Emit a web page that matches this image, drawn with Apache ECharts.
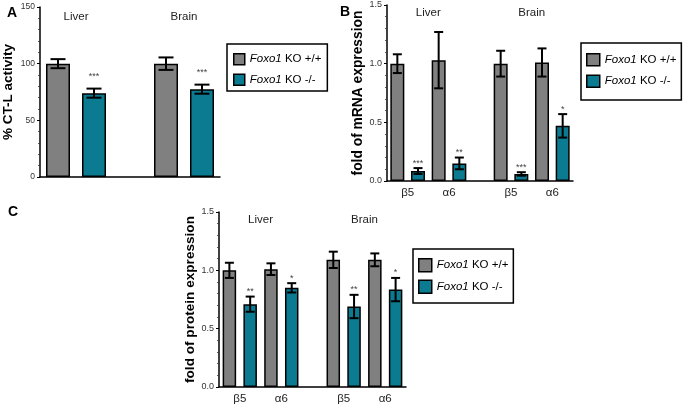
<!DOCTYPE html>
<html><head><meta charset="utf-8">
<script src="https://cdn.jsdelivr.net/npm/echarts@6/dist/echarts.min.js"></script>
<style>html,body{margin:0;padding:0;background:#fff}#c{width:684px;height:406px}</style>
</head><body><div id="c"></div>
<script>
// ---------- data ----------
const seriesNames = ['Foxo1 KO +/+', 'Foxo1 KO -/-'];
// Panel A: CT-L activity
const groupsA = ['Liver', 'Brain'];
const wtA = [100, 100];
const wtErrA = [4, 5.5];
const koA = [74, 77.5];
const koErrA = [4, 4];
const starsA = ['***', '***'];
// Panel B: mRNA expression
const genesB = ['β5', 'α6', 'β5', 'α6'];
const groupsB = ['Liver', 'Brain'];
const wtB = [1.0, 1.03, 1.0, 1.01];
const wtErrB = [0.08, 0.24, 0.11, 0.12];
const koB = [0.085, 0.15, 0.06, 0.47];
const koErrB = [0.025, 0.05, 0.015, 0.1];
const starsB = ['***', '**', '***', '*'];
// Panel C: protein expression
const genesC = ['β5', 'α6', 'β5', 'α6'];
const groupsC = ['Liver', 'Brain'];
const wtC = [1.0, 1.01, 1.09, 1.09];
const wtErrC = [0.065, 0.05, 0.07, 0.055];
const koC = [0.71, 0.85, 0.69, 0.835];
const koErrC = [0.065, 0.04, 0.1, 0.1];
const starsC = ['**', '*', '**', '*'];
// y tick setup
const yMaxA = 150, yIntA = 50;
const yMaxBC = 1.5, yIntBC = 0.5;

// ---------- layout ----------
const GRAY = '#808080', TEAL = '#0a7b90';
const FONT = 'Liberation Sans, Arial, sans-serif';
const panels = [
  {grid:{left:40, top:7, width:180, height:170}, nSlots:5, wtSlots:[0,3], koSlots:[1,4],
   wt:wtA, wtErr:wtErrA, ko:koA, koErr:koErrA, stars:starsA, genes:null, groups:groupsA, groupPos:[1,4],
   groupY:141, yMax:yMaxA, yInt:yIntA, barW:24, cap:7.5, starGap:12, starSize:9,
   yName:'% CT-L activity', nameGap:25, nameSize:13.5, tickSize:8.5, fmt:v=>String(v),
   legend:{left:227, top:44, padding:[9,6,5,6], itemW:11, itemH:11, gap:8, fs:11.5}},
  {grid:{left:387, top:5, width:186, height:176}, nSlots:9, wtSlots:[0,2,5,7], koSlots:[1,3,6,8],
   wt:wtB, wtErr:wtErrB, ko:koB, koErr:koErrB, stars:starsB, genes:genesB, groups:groupsB, groupPos:[2,7],
   groupY:1.43, yMax:yMaxBC, yInt:yIntBC, barW:14, cap:4.5, starGap:5, starSize:9,
   yName:'fold of mRNA expression', nameGap:15, nameSize:13.8, tickSize:9, fmt:v=>v.toFixed(1),
   legend:{left:581, top:43, padding:[10,5,12,5], itemW:13, itemH:12, gap:8, fs:11.5}},
  {grid:{left:219, top:212, width:187, height:175}, nSlots:9, wtSlots:[0,2,5,7], koSlots:[1,3,6,8],
   wt:wtC, wtErr:wtErrC, ko:koC, koErr:koErrC, stars:starsC, genes:genesC, groups:groupsC, groupPos:[2,7],
   groupY:1.43, yMax:yMaxBC, yInt:yIntBC, barW:13.5, cap:4.5, starGap:5, starSize:9,
   yName:'fold of protein expression', nameGap:18, nameSize:13.6, tickSize:9, fmt:v=>v.toFixed(1),
   legend:{left:413, top:249, padding:[9,5,9,5], itemW:13, itemH:13, gap:7, fs:11.5}}
];

function slotData(n, slots, vals){
  const a = new Array(n).fill('-');
  slots.forEach((s,i)=>{a[s]=vals[i];});
  return a;
}

const grid=[], xAxis=[], yAxis=[], series=[], legend=[];
panels.forEach((p, pi)=>{
  grid.push(p.grid);
  const cats = Array.from({length:p.nSlots}, (_,i)=>String(i));
  xAxis.push({type:'category', gridIndex:pi, data:cats, boundaryGap:true,
    axisLine:{show:true, lineStyle:{color:'#000', width:1.5}}, axisTick:{show:false}, axisLabel:{show:false}});
  const labelMap = {};
  if (p.genes) p.genes.forEach((g,i)=>{labelMap[p.wtSlots[i]+1]=g;});
  xAxis.push({type:'value', gridIndex:pi, min:0, max:p.nSlots, interval:1, position:'bottom',
    axisLine:{show:false}, axisTick:{show:false}, splitLine:{show:false},
    axisLabel:{show:!!p.genes, margin:6, fontSize:11.5, color:'#222', fontFamily:FONT,
      formatter:v=>labelMap[v]||''}});
  yAxis.push({type:'value', gridIndex:pi, min:0, max:p.yMax, interval:p.yInt,
    name:p.yName, nameLocation:'middle', nameGap:p.nameGap,
    nameTextStyle:{fontSize:p.nameSize, fontWeight:'bold', color:'#000', fontFamily:FONT},
    axisLine:{show:true, lineStyle:{color:'#000', width:1.5}},
    axisTick:{show:true, length:3, lineStyle:{color:'#000', width:1}},
    minorTick:{show:true, splitNumber:5, length:2, lineStyle:{color:'#333', width:0.8}},
    splitLine:{show:false},
    axisLabel:{fontSize:p.tickSize, color:'#333', margin:5, fontFamily:FONT, formatter:p.fmt}});
  const base = {xAxisIndex:2*pi, yAxisIndex:pi};
  series.push(Object.assign({type:'bar', name:seriesNames[0], barWidth:p.barW, barGap:'-100%',
    data:slotData(p.nSlots, p.wtSlots, p.wt),
    itemStyle:{color:GRAY, borderColor:'#000', borderWidth:1.5}}, base));
  series.push(Object.assign({type:'bar', name:seriesNames[1], barWidth:p.barW, barGap:'-100%',
    data:slotData(p.nSlots, p.koSlots, p.ko),
    itemStyle:{color:TEAL, borderColor:'#000', borderWidth:1.5}}, base));
  const errData = [], starTxt = [];
  p.wt.forEach((v,i)=>{errData.push([p.wtSlots[i], v, p.wtErr[i]]); starTxt.push('');});
  p.ko.forEach((v,i)=>{errData.push([p.koSlots[i], v, p.koErr[i]]); starTxt.push(p.stars[i]);});
  series.push(Object.assign({type:'custom', silent:true, z:5, encode:{x:0,y:1}, data:errData,
    renderItem:(params, api)=>{
      const x=api.value(0), v=api.value(1), e=api.value(2);
      const t=api.coord([x, v+e]), b=api.coord([x, v-e]);
      const st={stroke:'#000', lineWidth:2};
      const ch=[
        {type:'line', shape:{x1:t[0],y1:t[1],x2:b[0],y2:b[1]}, style:st},
        {type:'line', shape:{x1:t[0]-p.cap,y1:t[1],x2:t[0]+p.cap,y2:t[1]}, style:st},
        {type:'line', shape:{x1:b[0]-p.cap,y1:b[1],x2:b[0]+p.cap,y2:b[1]}, style:st}];
      const s=starTxt[params.dataIndex];
      if (s) ch.push({type:'text', style:{text:s, x:t[0], y:t[1]-p.starGap, align:'center', verticalAlign:'middle',
        fill:'#444', fontSize:p.starSize, fontFamily:FONT}});
      return {type:'group', children:ch};
    }}, base));
  series.push({type:'custom', silent:true, xAxisIndex:2*pi+1, yAxisIndex:pi, encode:{x:0,y:1},
    data:p.groupPos.map(g=>[g, p.groupY]),
    renderItem:(params, api)=>{
      const c=api.coord([api.value(0), api.value(1)]);
      return {type:'text', style:{text:p.groups[params.dataIndex], x:c[0], y:c[1], align:'center',
        verticalAlign:'middle', fill:'#222', fontSize:11.5, fontFamily:FONT}};
    }});
  const L=p.legend;
  legend.push({data:seriesNames, orient:'vertical', left:L.left, top:L.top, padding:L.padding,
    itemWidth:L.itemW, itemHeight:L.itemH, itemGap:L.gap, icon:'rect',
    borderColor:'#000', borderWidth:1.5, selectedMode:false,
    itemStyle:{borderColor:'#000', borderWidth:1.5},
    formatter:n=>'{i|Foxo1}'+n.slice(5),
    textStyle:{fontSize:L.fs, color:'#000', fontFamily:FONT,
      rich:{i:{fontStyle:'italic', fontSize:L.fs, color:'#000', fontFamily:FONT}}}});
});

const chart = echarts.init(document.getElementById('c'), null, {renderer:'canvas'});
chart.setOption({
  animation:false,
  backgroundColor:'#fff',
  textStyle:{fontFamily:FONT},
  title:[
    {text:'A', left:2, top:1, textStyle:{fontSize:14, fontWeight:'bold', color:'#000', fontFamily:FONT}},
    {text:'B', left:335, top:0, textStyle:{fontSize:14, fontWeight:'bold', color:'#000', fontFamily:FONT}},
    {text:'C', left:3, top:200, textStyle:{fontSize:14, fontWeight:'bold', color:'#000', fontFamily:FONT}}
  ],
  grid, xAxis, yAxis, legend, series
});
</script></body></html>
